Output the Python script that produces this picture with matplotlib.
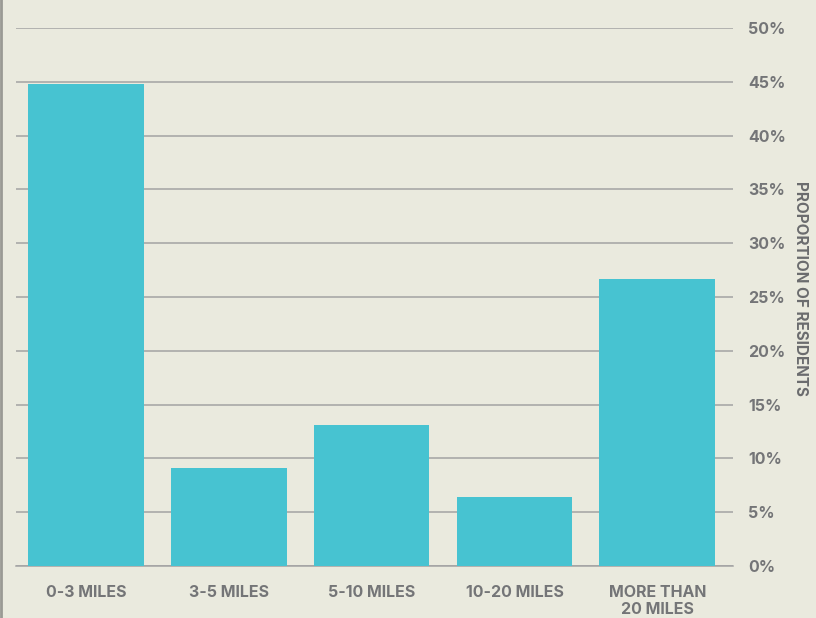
import matplotlib.pyplot as plt
from matplotlib.lines import Line2D

# Distance from home to work, share of residents
categories = ["0-3 MILES", "3-5 MILES", "5-10 MILES", "10-20 MILES", "MORE THAN\n20 MILES"]
shares = [44.8, 9.1, 13.1, 6.4, 26.7]
yticks = [0, 5, 10, 15, 20, 25, 30, 35, 40, 45, 50]

bg = "#eaeade"
bar_color = "#47c3d1"
text_color = "#747577"

plt.rcParams["font.family"] = ["Inter", "DejaVu Sans"]

fig = plt.figure(figsize=(8.16, 6.18), dpi=100, facecolor=bg)
ax = fig.add_axes([16 / 816, 1 - 566 / 618, (733 - 16) / 816, (566 - 28) / 618])
ax.set_facecolor(bg)

x = range(len(categories))
ax.bar(x, shares, width=0.81, color=bar_color, zorder=3)

ax.set_xlim(-0.49, 4.53)
ax.set_ylim(0, 50)
ax.set_yticks(yticks)
ax.set_yticklabels([f"{t}%" for t in yticks])
ax.yaxis.tick_right()
ax.yaxis.set_label_position("right")
ax.grid(axis="y", color="#a3a3a3", linewidth=1.1, zorder=1)
ax.set_xticks(list(x))
ax.set_xticklabels(categories, linespacing=1.15)

for s in ["top", "left", "right"]:
    ax.spines[s].set_visible(False)
ax.spines["bottom"].set_color("#a3a3a3")
ax.spines["bottom"].set_linewidth(1.1)

ax.tick_params(axis="both", length=0, labelsize=11.5, labelcolor=text_color)
ax.tick_params(axis="y", pad=11)
ax.tick_params(axis="x", pad=14)
for lbl in ax.get_xticklabels() + ax.get_yticklabels():
    lbl.set_fontweight("bold")
for lbl in ax.get_yticklabels():
    lbl.set_horizontalalignment("left")

ax.set_ylabel("PROPORTION OF RESIDENTS", rotation=270, fontsize=11,
              fontweight="bold", color="#6b6c6e", labelpad=22)
ax.yaxis.set_label_coords(1.105, 0.515)

# thin rule along the left edge
fig.add_artist(Line2D([0.001, 0.001], [0, 1], transform=fig.transFigure,
                      color="#9a9a94", linewidth=2))

fig.savefig("out.png", dpi=100, facecolor=bg)
